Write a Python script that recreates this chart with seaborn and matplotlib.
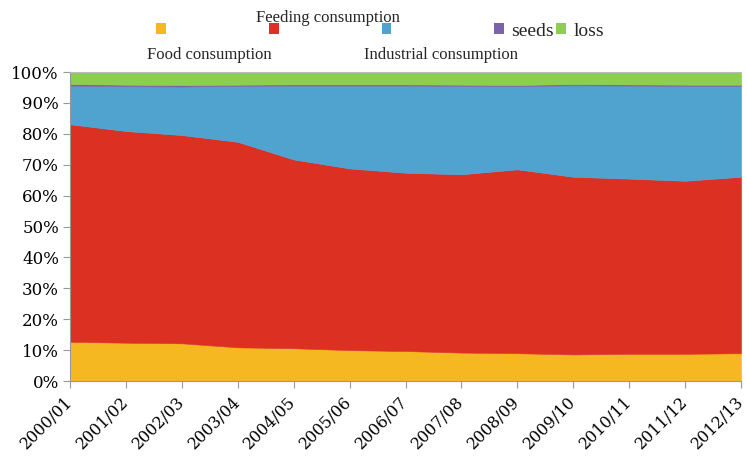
import matplotlib
matplotlib.use("Agg")
import matplotlib.pyplot as plt
from matplotlib.patches import Patch
import seaborn as sns

# Share of grain consumption by use, marketing years 2000/01 - 2012/13 (%)
years = ["2000/01", "2001/02", "2002/03", "2003/04", "2004/05", "2005/06", "2006/07",
         "2007/08", "2008/09", "2009/10", "2010/11", "2011/12", "2012/13"]
food = [12.7, 12.4, 12.2, 10.9, 10.6, 10.0, 9.7, 9.2, 9.0, 8.6, 8.8, 8.8, 9.0]
feeding = [70.4, 68.5, 67.4, 66.5, 61.1, 58.8, 57.7, 57.7, 59.5, 57.5, 56.7, 56.0, 57.1]
industrial = [12.5, 14.5, 15.7, 18.1, 23.9, 26.8, 28.2, 28.6, 26.9, 29.6, 30.1, 30.7, 29.4]
seeds = [0.5, 0.5, 0.5, 0.4, 0.4, 0.4, 0.4, 0.4, 0.4, 0.4, 0.4, 0.4, 0.4]
loss = [3.9, 4.1, 4.2, 4.1, 4.0, 4.0, 4.0, 4.1, 4.2, 3.9, 4.0, 4.1, 4.1]

colors = sns.color_palette(["#F5B820", "#DC3022", "#50A3CF", "#7C62A8", "#8DCD4F"])
yticks = list(range(0, 101, 10))

sns.set_theme(style="white")
plt.rcParams["font.family"] = ["DejaVu Serif"]

fig = plt.figure(figsize=(7.47, 4.61), dpi=100)
ax = fig.add_axes([0.0937, 0.1735, 0.8983, 0.6703])

x = list(range(len(years)))
ax.stackplot(x, food, feeding, industrial, seeds, loss,
             colors=colors, edgecolor="face", linewidth=0.4)

ax.set_xlim(0, len(years) - 1)
ax.set_ylim(0, 100)
ax.set_xticks(x)
ax.set_xticklabels(years, rotation=45, ha="right", va="center",
                   rotation_mode="anchor", fontsize=11.5)
ax.set_yticks(yticks)
ax.set_yticklabels([f"{v}%" for v in yticks], fontsize=12)
ax.tick_params(axis="both", which="major", direction="out", length=5, width=0.8,
               color="#999999", labelcolor="black", pad=3)
ax.tick_params(axis="x", bottom=True, pad=8)
ax.tick_params(axis="y", left=True)

for side in ["left", "bottom"]:
    ax.spines[side].set_color("#999999")
    ax.spines[side].set_linewidth(0.8)
ax.spines["top"].set_color("#bbbbbb")
ax.spines["top"].set_linewidth(0.8)
ax.spines["right"].set_visible(False)

# Legend: squares in one row, three labels placed above/below as in the original
handles = [Patch(facecolor=c, edgecolor="none") for c in colors]
leg1 = fig.legend(handles[:3], ["", "", ""], loc="center left",
                  bbox_to_anchor=(156 / 747, 1 - 31 / 461), ncol=3, frameon=False,
                  handlelength=0.5, handleheight=0.5, handletextpad=0,
                  columnspacing=5.3, borderpad=0, borderaxespad=0,
                  prop={"family": "Liberation Serif", "size": 14})
leg2 = fig.legend(handles[3:], ["seeds", "loss"], loc="center left",
                  bbox_to_anchor=(494 / 747, 1 - 31 / 461), ncol=2, frameon=False,
                  handlelength=0.5, handleheight=0.5, handletextpad=0.4,
                  columnspacing=0.1, borderpad=0, borderaxespad=0,
                  prop={"family": "Liberation Serif", "size": 14})

fig.text(328 / 747, 1 - 18 / 461, "Feeding consumption", ha="center", va="center",
         family="Liberation Serif", fontsize=12)
fig.text(209 / 747, 1 - 55 / 461, "Food consumption", ha="center", va="center",
         family="Liberation Serif", fontsize=12)
fig.text(441 / 747, 1 - 55 / 461, "Industrial consumption", ha="center", va="center",
         family="Liberation Serif", fontsize=12)

fig.savefig("out.png", dpi=100)
